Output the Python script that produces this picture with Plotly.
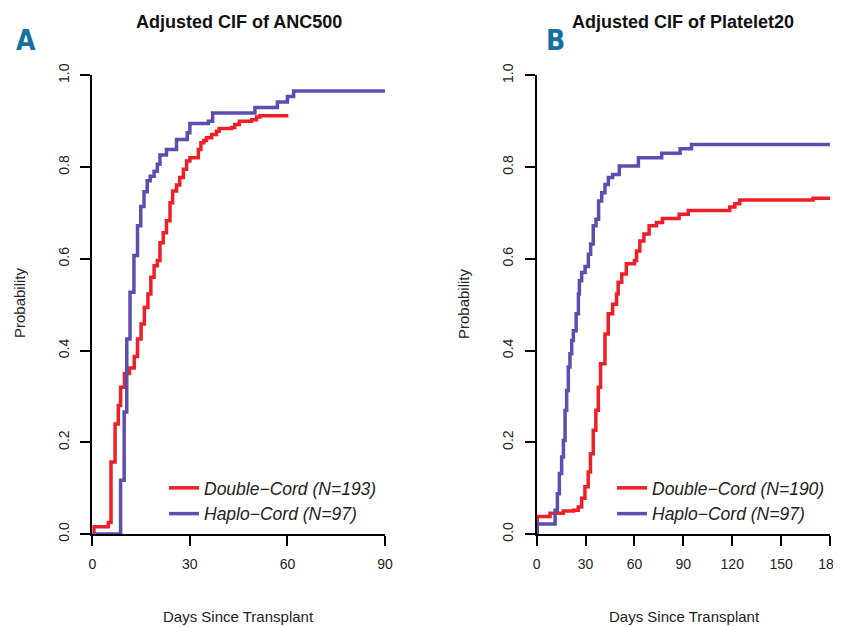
import plotly.graph_objects as go

# ---------------- data ----------------
# Panel A: Adjusted CIF of ANC500
anc_double_days = [0, 0.5, 4.9, 5.75, 7, 8, 8.7, 9.9, 11.4, 12.9, 13.9, 15, 16, 17.1, 18, 19, 20,
                   20.8, 21.8, 22.8, 23.9, 24.7, 25.9, 26.9, 28, 29, 30, 32.6, 33.4, 34.3, 35.1,
                   36.7, 38.2, 39, 42.8, 43.8, 45.2, 49, 50.5, 51.5, 60.3]
anc_double_prob = [0, 0.016, 0.025, 0.157, 0.24, 0.28, 0.32, 0.35, 0.362, 0.387, 0.425, 0.458,
                   0.494, 0.523, 0.56, 0.585, 0.596, 0.635, 0.657, 0.683, 0.722, 0.748, 0.761,
                   0.777, 0.795, 0.813, 0.82, 0.838, 0.853, 0.858, 0.864, 0.871, 0.878, 0.884,
                   0.886, 0.893, 0.9, 0.903, 0.909, 0.912, 0.912]
anc_haplo_days = [0, 8.7, 9.8, 10.6, 11.6, 12.8, 13.9, 14.9, 15.9, 16.9, 17.8, 19, 20, 20.8,
                  22.8, 25.9, 29.2, 30, 35.7, 37, 50, 56.9, 60, 61.9, 90.4]
anc_haplo_prob = [0, 0.117, 0.266, 0.425, 0.527, 0.607, 0.672, 0.714, 0.746, 0.77, 0.78, 0.791,
                  0.806, 0.826, 0.838, 0.86, 0.875, 0.895, 0.9, 0.918, 0.93, 0.942, 0.954,
                  0.966, 0.966]

# Panel B: Adjusted CIF of Platelet20
plt_double_days = [0, 0.3, 8.2, 16.3, 22.5, 25.5, 27.6, 29.6, 31.6, 33, 34.7, 36.3, 37.8, 39.2,
                   41.9, 43.9, 46.6, 49, 50, 52.2, 55, 60, 61.3, 63.3, 65.8, 69, 73.5, 77.2,
                   87.4, 93, 118.5, 121.6, 124.6, 169.6, 180]
plt_double_prob = [0, 0.038, 0.045, 0.05, 0.052, 0.059, 0.078, 0.103, 0.135, 0.175, 0.226, 0.27,
                   0.32, 0.371, 0.436, 0.48, 0.501, 0.523, 0.549, 0.567, 0.589, 0.596, 0.617,
                   0.639, 0.654, 0.672, 0.679, 0.688, 0.697, 0.705, 0.713, 0.72, 0.728, 0.732,
                   0.732]
plt_haplo_days = [0, 0.3, 11.3, 12.7, 13.9, 15.3, 16.4, 17.4, 18.4, 19.4, 20.4, 21.5, 22.5, 24.2,
                  25.6, 26.2, 27.6, 29.7, 31.7, 33.1, 34.7, 36.4, 38, 39.9, 41.9, 44, 46.6, 50.7,
                  62.4, 76.7, 88, 95, 180]
plt_haplo_prob = [0, 0.022, 0.052, 0.088, 0.132, 0.168, 0.204, 0.27, 0.313, 0.364, 0.393, 0.422,
                  0.443, 0.48, 0.523, 0.552, 0.57, 0.583, 0.61, 0.632, 0.672, 0.686, 0.726,
                  0.744, 0.762, 0.777, 0.784, 0.802, 0.82, 0.83, 0.84, 0.849, 0.849]

x_ticks_a = [0, 30, 60, 90]
x_ticks_b = [0, 30, 60, 90, 120, 150, 180]
y_ticks = [0.0, 0.2, 0.4, 0.6, 0.8, 1.0]
y_tick_labels = ["0.0", "0.2", "0.4", "0.6", "0.8", "1.0"]

names_a = ["Double\u2212Cord (N=193)", "Haplo\u2212Cord (N=97)"]
names_b = ["Double\u2212Cord (N=190)", "Haplo\u2212Cord (N=97)"]
titles = ["Adjusted CIF of ANC500", "Adjusted CIF of Platelet20"]
panel_letters = ["A", "B"]

RED = "#EE1F26"
BLUE = "#5A4EAF"
FONT = "Liberation Sans, Arial, sans-serif"

# page is 841x626; the html body has an 8px margin
OFF = 8
FW, FH = 841 - OFF, 626 - OFF


def px(x):
    return (x - OFF) / FW


def py(y):
    return (FH - (y - OFF)) / FH


fig = go.Figure()


def add_curve(x, y, name, color, xa, ya, legend):
    fig.add_trace(go.Scatter(x=x, y=y, mode="lines", line=dict(color=color, width=3.5, shape="hv"),
                             name=name, xaxis=xa, yaxis=ya, legend=legend, cliponaxis=False,
                             hoverinfo="skip"))


add_curve(anc_double_days, anc_double_prob, names_a[0], RED, "x", "y", "legend")
add_curve(anc_haplo_days, anc_haplo_prob, names_a[1], BLUE, "x", "y", "legend")
add_curve(plt_double_days, plt_double_prob, names_b[0], RED, "x2", "y2", "legend2")
add_curve(plt_haplo_days, plt_haplo_prob, names_b[1], BLUE, "x2", "y2", "legend2")

ydom = [py(534), py(75.3)]
dom_a = [px(92.3), px(385)]
dom_b = [px(536.7), px(830)]

axis_common = dict(showline=True, linecolor="black", linewidth=2, ticks="outside", ticklen=10,
                   tickwidth=2, tickcolor="black", showgrid=False, zeroline=False,
                   automargin=False, ticklabeloverflow="allow",
                   tickfont=dict(family=FONT, size=14, color="#222"), ticklabelstandoff=6)

legend_common = dict(font=dict(family=FONT, size=17.5, color="#222", style="italic"),
                     bgcolor="rgba(0,0,0,0)", xanchor="left", yanchor="top",
                     tracegroupgap=0, itemwidth=30)

fig.update_layout(
    template="none",
    width=FW, height=FH, autosize=False,
    margin=dict(l=0, r=0, t=0, b=0, pad=0, autoexpand=False),
    paper_bgcolor="white", plot_bgcolor="white",
    showlegend=True,
    xaxis=dict(domain=dom_a, range=[0, 90], tickvals=x_ticks_a, anchor="y", **axis_common),
    yaxis=dict(domain=ydom, range=[0, 1], tickvals=y_ticks, ticktext=y_tick_labels,
               tickangle=-90, anchor="x", **axis_common),
    xaxis2=dict(domain=dom_b, range=[0, 180], tickvals=x_ticks_b, anchor="y2", **axis_common),
    yaxis2=dict(domain=ydom, range=[0, 1], tickvals=y_ticks, ticktext=y_tick_labels,
                tickangle=-90, anchor="x2", **axis_common),
    legend=dict(x=px(164), y=py(470), **legend_common),
    legend2=dict(x=px(612), y=py(470), **legend_common),
)

annotations = []
for cx, t in zip([239, 683], titles):
    annotations.append(dict(text="<b>" + t + "</b>", x=px(cx), y=py(22), xref="paper",
                            yref="paper", showarrow=False, xanchor="center", yanchor="middle",
                            font=dict(family=FONT, size=18, color="#111")))
for lx, letter in zip([25.5, 555.5], panel_letters):
    annotations.append(dict(text="<b>" + letter + "</b>", x=px(lx), y=py(41), xref="paper",
                            yref="paper", showarrow=False, xanchor="center", yanchor="middle",
                            font=dict(family="Liberation Sans Narrow, DejaVu Sans Condensed, Arial Narrow, sans-serif",
                                      size=28, color="#17709C")))
for pxv in [19, 463]:
    annotations.append(dict(text="Probability", x=px(pxv), y=py(303), xref="paper",
                            yref="paper", showarrow=False, textangle=-90, xanchor="center",
                            yanchor="middle", font=dict(family=FONT, size=15, color="#222")))
for dx in [238, 684]:
    annotations.append(dict(text="Days Since Transplant", x=px(dx), y=py(616),
                            xref="paper", yref="paper", showarrow=False, xanchor="center",
                            yanchor="middle", font=dict(family=FONT, size=15, color="#222")))
fig.update_layout(annotations=annotations)

fig.write_html("out.html")
